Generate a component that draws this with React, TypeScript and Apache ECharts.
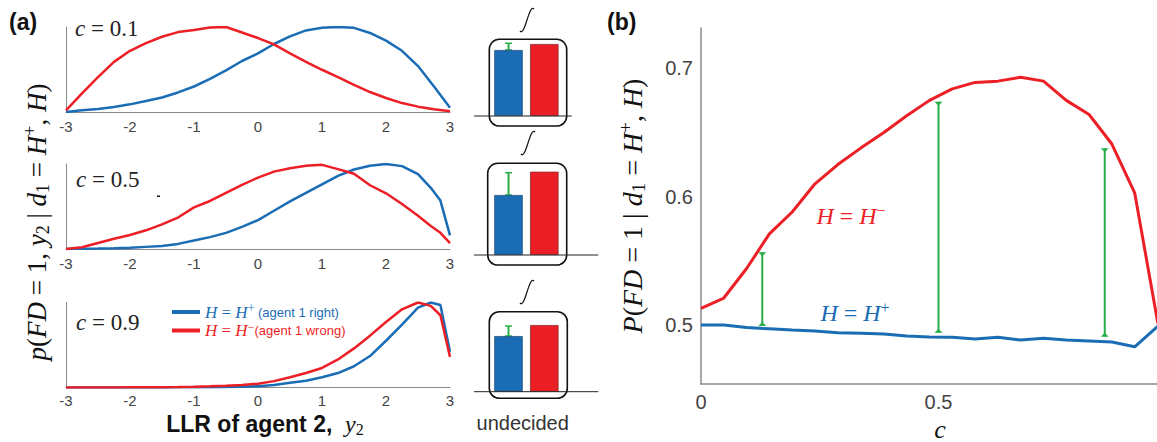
import React, { useEffect, useRef } from 'react';
import * as echarts from 'echarts';

// ---------- data ----------
const LLR_X1 = [-3, -2.75, -2.5, -2.25, -2, -1.75, -1.5, -1.25, -1, -0.75, -0.5, -0.25, 0, 0.25, 0.5, 0.75, 1, 1.25, 1.5, 1.75, 2, 2.25, 2.5, 2.75, 3];
const LLR_X23 = [-3, -2.75, -2.5, -2.25, -2, -1.75, -1.5, -1.25, -1, -0.75, -0.5, -0.25, 0, 0.25, 0.5, 0.75, 1, 1.25, 1.5, 1.75, 2, 2.25, 2.5, 2.7, 2.85, 3];

const c01Right = [0.0, 0.02, 0.035, 0.06, 0.09, 0.13, 0.17, 0.23, 0.3, 0.39, 0.49, 0.6, 0.69, 0.8, 0.89, 0.96, 0.99, 1.0, 0.99, 0.93, 0.84, 0.72, 0.54, 0.3, 0.05];
const c01Wrong = [0.02, 0.22, 0.41, 0.59, 0.72, 0.81, 0.885, 0.94, 0.965, 0.995, 1.0, 0.935, 0.87, 0.795, 0.69, 0.59, 0.497, 0.41, 0.32, 0.235, 0.165, 0.105, 0.063, 0.032, 0.01];

const c05Right = [0.0, 0.003, 0.006, 0.01, 0.015, 0.025, 0.035, 0.06, 0.1, 0.14, 0.19, 0.26, 0.34, 0.45, 0.56, 0.66, 0.76, 0.86, 0.935, 0.98, 1.0, 0.975, 0.88, 0.72, 0.57, 0.16];
const c05Wrong = [0.0, 0.02, 0.07, 0.12, 0.165, 0.22, 0.29, 0.37, 0.49, 0.565, 0.66, 0.755, 0.84, 0.91, 0.95, 0.98, 0.99, 0.94, 0.885, 0.75, 0.655, 0.53, 0.39, 0.27, 0.19, 0.07];

const c09Right = [0, 0, 0, 0, 0, 0.001, 0.001, 0.002, 0.003, 0.004, 0.006, 0.009, 0.015, 0.03, 0.055, 0.08, 0.12, 0.17, 0.25, 0.37, 0.55, 0.74, 0.94, 1.0, 0.97, 0.42];
const c09Wrong = [0, 0, 0, 0.001, 0.002, 0.003, 0.004, 0.006, 0.009, 0.014, 0.02, 0.03, 0.045, 0.075, 0.12, 0.17, 0.23, 0.33, 0.46, 0.61, 0.77, 0.92, 1.0, 0.96, 0.85, 0.36];

const PANEL_LABELS = ['0.1', '0.5', '0.9'];

// integrated ("undecided") bars, relative to H = H- bar
const BAR_CATS = ['H+', 'H-'];
const barsC01 = [0.917, 1.0];
const barsC05 = [0.72, 1.0];
const barsC09 = [0.835, 1.0];
const barErrTop = [1.01, 0.988, 0.985];

// panel (b)
const C_VALUES = [0, 0.048, 0.096, 0.144, 0.192, 0.24, 0.288, 0.337, 0.385, 0.433, 0.481, 0.529, 0.577, 0.625, 0.673, 0.721, 0.769, 0.817, 0.865, 0.913, 0.962];
const pWrong = [0.513, 0.521, 0.544, 0.571, 0.588, 0.61, 0.625, 0.638, 0.65, 0.663, 0.675, 0.684, 0.689, 0.69, 0.693, 0.69, 0.675, 0.664, 0.641, 0.603, 0.501];
const pRight = [0.5, 0.5, 0.498, 0.497, 0.496, 0.4953, 0.494, 0.4935, 0.493, 0.4914, 0.4906, 0.4904, 0.489, 0.4904, 0.4883, 0.4896, 0.4883, 0.4875, 0.4867, 0.483, 0.499];
const ERR_C = [0.129, 0.5, 0.85];
const ERR_LO = [0.4992, 0.494, 0.4909];
const ERR_HI = [0.5567, 0.674, 0.6377];

const X_TICKS_B = [0, 0.5, 1];
const Y_TICKS_B = [0.5, 0.6, 0.7];

// ---------- styles ----------
const BLUE = '#1a6db5';
const RED = '#ed1f26';
const GREEN = '#2aae4a';
const AXIS = '#8a8a8a';
const SERIF = "'Liberation Serif', 'DejaVu Serif', serif";
const SANS = "'Liberation Sans', Arial, Helvetica, sans-serif";

function mathRich(size: number, color: string) {
  const s = Math.round(size * 0.68);
  return {
    i: { fontFamily: SERIF, fontStyle: 'italic', fontSize: size, color, fill: color },
    n: { fontFamily: SERIF, fontSize: size, color, fill: color },
    sub: { fontFamily: SERIF, fontSize: s, color, fill: color, padding: [Math.round(size * 0.45), 0, 0, 0] },
    sup: { fontFamily: SERIF, fontSize: s, color, fill: color, padding: [0, 0, Math.round(size * 0.5), 0] },
  };
}

export default function App() {
  const ref = useRef<HTMLDivElement>(null);

  useEffect(() => {
    if (!ref.current) return;
    const chart = echarts.init(ref.current, null, { renderer: 'svg' });

    const gridsA = [
      { left: 66, top: 27, width: 384, height: 85, outerBoundsMode: 'none' },
      { left: 66, top: 164, width: 384, height: 85, outerBoundsMode: 'none' },
      { left: 66, top: 302.5, width: 384, height: 85, outerBoundsMode: 'none' },
    ];
    const gridsBar = [
      { left: 490.6, top: 29.6, width: 71.6, height: 86.4, outerBoundsMode: 'none' },
      { left: 490.6, top: 155, width: 71.6, height: 100, outerBoundsMode: 'none' },
      { left: 490.6, top: 311.7, width: 71.6, height: 80, outerBoundsMode: 'none' },
    ];
    const gridB = { left: 701, top: 28, width: 475, height: 356, outerBoundsMode: 'none' };

    const xAxesA = gridsA.map((_, i) => ({
      type: 'value', gridIndex: i, min: -3, max: 3, interval: 1,
      axisLine: { show: true, onZero: false, lineStyle: { color: AXIS, width: 1 } },
      axisTick: { show: false }, splitLine: { show: false },
      axisLabel: { fontSize: 15, color: '#444', margin: i === 2 ? 5 : 7, fontFamily: SANS },
    }));
    const yAxesA = gridsA.map((_, i) => ({
      type: 'value', gridIndex: i, min: 0, max: 1,
      axisLine: { show: true, onZero: false, lineStyle: { color: AXIS, width: 1 } },
      axisTick: { show: false }, splitLine: { show: false }, axisLabel: { show: false },
    }));
    const xAxesBar = gridsBar.map((_, i) => ({
      type: 'category', gridIndex: 3 + i, data: BAR_CATS, show: false,
    }));
    const yAxesBar = gridsBar.map((_, i) => ({
      type: 'value', gridIndex: 3 + i, min: 0, max: 1.2, show: false,
    }));
    const xAxisB = {
      type: 'value', gridIndex: 6, min: 0, max: 1,
      axisLine: { show: true, onZero: false, lineStyle: { color: AXIS, width: 1.5 } },
      axisTick: { show: false }, splitLine: { show: false },
      axisLabel: { fontSize: 20, color: '#444', margin: 8, fontFamily: SANS, customValues: X_TICKS_B },
    };
    const yAxisB = {
      type: 'value', gridIndex: 6, min: 0.454, max: 0.7314,
      axisLine: { show: true, onZero: false, lineStyle: { color: AXIS, width: 1.5 } },
      axisTick: { show: false }, splitLine: { show: false },
      axisLabel: { fontSize: 20, color: '#444', margin: 8, fontFamily: SANS, customValues: Y_TICKS_B },
    };

    const lineA = (name: string, xs: number[], ys: number[], idx: number, color: string) => ({
      type: 'line', name, xAxisIndex: idx, yAxisIndex: idx,
      data: xs.map((x, k) => [x, ys[k]]),
      showSymbol: false, symbol: 'none',
      lineStyle: { color, width: 2.5 }, itemStyle: { color },
    });

    const barData = [barsC01, barsC05, barsC09];
    const barSeries = barData.map((vals, i) => ({
      type: 'bar', xAxisIndex: 3 + i, yAxisIndex: 3 + i, barWidth: 28.5,
      data: vals.map((v, k) => ({
        value: v,
        itemStyle: { color: k === 0 ? BLUE : RED, borderColor: k === 0 ? '#24507a' : '#8a2a2a', borderWidth: 0.8 },
      })),
    }));
    const barErrSeries = barData.map((vals, i) => ({
      type: 'custom', xAxisIndex: 3 + i, yAxisIndex: 3 + i,
      data: [[0, vals[0], barErrTop[i]]],
      renderItem: (_p: any, api: any) => {
        const lo = api.coord([api.value(0), api.value(1)]);
        const hi = api.coord([api.value(0), api.value(2)]);
        return {
          type: 'group',
          children: [
            { type: 'line', shape: { x1: lo[0], y1: lo[1], x2: hi[0], y2: hi[1] }, style: { stroke: GREEN, lineWidth: 2 } },
            { type: 'line', shape: { x1: hi[0] - 3.5, y1: hi[1], x2: hi[0] + 3.5, y2: hi[1] }, style: { stroke: GREEN, lineWidth: 1.5 } },
            { type: 'line', shape: { x1: lo[0] - 3.5, y1: lo[1], x2: lo[0] + 3.5, y2: lo[1] }, style: { stroke: GREEN, lineWidth: 1.5 } },
          ],
        };
      },
    }));

    const rich = (size: number, color: string) => mathRich(size, color);

    // thin slanted integral sign drawn as a curve
    const integral = (cx: number, cy: number) => ({
      type: 'bezierCurve',
      shape: { x1: cx - 7, y1: cy + 11, cpx1: cx - 2, cpy1: cy + 17, cpx2: cx + 2, cpy2: cy - 17, x2: cx + 7, y2: cy - 11 },
      style: { stroke: '#111', lineWidth: 1.2, fill: 'none' },
      z: 10,
    });

    const cLabelPos = [[75, 28], [76, 179], [76, 322]];
    const graphics: any[] = [
      { type: 'text', left: 9, top: 10, style: { text: '(a)', fontFamily: SANS, fontWeight: 'bold', fontSize: 23, fill: '#111' } },
      { type: 'text', left: 607, top: 10, style: { text: '(b)', fontFamily: SANS, fontWeight: 'bold', fontSize: 23, fill: '#111' } },
      ...cLabelPos.map((p, i) => ({
        type: 'text', x: p[0], y: p[1],
        style: {
          text: `{i|c}{n| = ${PANEL_LABELS[i]}}`, rich: rich(23, '#222'),
          align: 'left', verticalAlign: 'middle',
        },
      })),
      { type: 'rect', shape: { x: 157, y: 195.5, width: 3, height: 1.5 }, style: { fill: '#111' } },
      {
        type: 'text', x: 37, y: 222, rotation: Math.PI / 2,
        style: {
          text: '{i|p}{n|(}{i|FD}{n| = 1, }{i|y}{sub|2}{n| | }{i|d}{sub|1}{n| = }{i|H}{sup|+}{n|, }{i|H}{n|)}',
          rich: rich(27, '#111'), align: 'center', verticalAlign: 'middle',
        },
      },
      {
        type: 'text', x: 632, y: 206, rotation: Math.PI / 2,
        style: {
          text: '{i|P}{n|(}{i|FD}{n| = 1 | }{i|d}{sub|1}{n| = }{i|H}{sup|+}{n|, }{i|H}{n|)}',
          rich: rich(28, '#111'), align: 'center', verticalAlign: 'middle',
        },
      },
      {
        type: 'text', x: 265, y: 424,
        style: {
          text: '{b|LLR of agent 2,  }{i|y}{sub|2}',
          rich: {
            b: { fontFamily: SANS, fontWeight: 'bold', fontSize: 23, fill: '#111' },
            ...mathRich(24, '#111'),
          },
          align: 'center', verticalAlign: 'middle',
        },
      },
      {
        type: 'text', x: 940, y: 429,
        style: { text: 'c', fontFamily: SERIF, fontStyle: 'italic', fontSize: 26, fill: '#111', align: 'center', verticalAlign: 'middle' },
      },
      {
        type: 'text', x: 851, y: 216,
        style: { text: '{i|H}{n| = }{i|H}{sup|−}', rich: rich(24, RED), align: 'center', verticalAlign: 'middle' },
      },
      {
        type: 'text', x: 855, y: 313,
        style: { text: '{i|H}{n| = }{i|H}{sup|+}', rich: rich(24, BLUE), align: 'center', verticalAlign: 'middle' },
      },
      // integrated boxes
      { type: 'rect', shape: { x: 489.3, y: 39.3, width: 77.4, height: 86.7, r: 10 }, style: { fill: 'none', stroke: '#111', lineWidth: 1.6 }, z: 10 },
      { type: 'rect', shape: { x: 487.7, y: 163.3, width: 79, height: 101.7, r: 10 }, style: { fill: 'none', stroke: '#111', lineWidth: 1.6 }, z: 10 },
      { type: 'rect', shape: { x: 489.3, y: 311.7, width: 78, height: 86.6, r: 10 }, style: { fill: 'none', stroke: '#111', lineWidth: 1.6 }, z: 10 },
      { type: 'line', shape: { x1: 474, y1: 116, x2: 571.7, y2: 116 }, style: { stroke: '#222', lineWidth: 1 }, z: 10 },
      { type: 'line', shape: { x1: 474, y1: 255, x2: 598.3, y2: 255 }, style: { stroke: '#222', lineWidth: 1 }, z: 10 },
      { type: 'line', shape: { x1: 474, y1: 391.7, x2: 598.3, y2: 391.7 }, style: { stroke: '#222', lineWidth: 1 }, z: 10 },
      integral(527, 20),
      integral(528, 143),
      integral(527, 292),
      {
        type: 'text', x: 522.7, y: 423,
        style: { text: 'undecided', fontFamily: SANS, fontSize: 20, fill: '#333', align: 'center', verticalAlign: 'middle' },
      },
    ];

    const option: any = {
      animation: false,
      backgroundColor: '#fff',
      grid: [...gridsA, ...gridsBar, gridB],
      xAxis: [...xAxesA, ...xAxesBar, xAxisB],
      yAxis: [...yAxesA, ...yAxesBar, yAxisB],
      legend: {
        data: ['H+', 'H-'], orient: 'vertical', left: 172, top: 302, padding: 0, itemGap: 0,
        icon: 'rect', itemWidth: 28, itemHeight: 4,
        formatter: (name: string) =>
          name === 'H+'
            ? '{bi|H}{bn| = }{bi|H}{bsup|+}{bt| (agent 1 right)}'
            : '{ri|H}{rn| = }{ri|H}{rsup|−}{rt|(agent 1 wrong)}',
        textStyle: {
          rich: {
            bi: { fontFamily: SERIF, fontStyle: 'italic', fontSize: 17, color: BLUE, lineHeight: 20 },
            bn: { fontFamily: SERIF, fontSize: 17, color: BLUE, lineHeight: 20 },
            bsup: { fontFamily: SERIF, fontSize: 12, color: BLUE, padding: [0, 0, 8, 0] },
            bt: { fontFamily: SANS, fontSize: 13, color: BLUE, lineHeight: 20 },
            ri: { fontFamily: SERIF, fontStyle: 'italic', fontSize: 17, color: RED, lineHeight: 20 },
            rn: { fontFamily: SERIF, fontSize: 17, color: RED, lineHeight: 20 },
            rsup: { fontFamily: SERIF, fontSize: 12, color: RED, padding: [0, 0, 8, 0] },
            rt: { fontFamily: SANS, fontSize: 13, color: RED, lineHeight: 20 },
          },
        },
      },
      graphic: graphics,
      series: [
        lineA('H+', LLR_X1, c01Right, 0, BLUE),
        lineA('H-', LLR_X1, c01Wrong, 0, RED),
        lineA('H+', LLR_X23, c05Right, 1, BLUE),
        lineA('H-', LLR_X23, c05Wrong, 1, RED),
        lineA('H+', LLR_X23, c09Right, 2, BLUE),
        lineA('H-', LLR_X23, c09Wrong, 2, RED),
        ...barSeries,
        ...barErrSeries,
        {
          type: 'line', name: 'H-', xAxisIndex: 6, yAxisIndex: 6,
          data: C_VALUES.map((c, k) => [c, pWrong[k]]),
          showSymbol: false, symbol: 'none', lineStyle: { color: RED, width: 3 }, itemStyle: { color: RED },
        },
        {
          type: 'line', name: 'H+', xAxisIndex: 6, yAxisIndex: 6,
          data: C_VALUES.map((c, k) => [c, pRight[k]]),
          showSymbol: false, symbol: 'none', lineStyle: { color: BLUE, width: 3 }, itemStyle: { color: BLUE },
        },
        {
          type: 'custom', xAxisIndex: 6, yAxisIndex: 6,
          data: ERR_C.map((c, k) => [c, ERR_LO[k], ERR_HI[k]]),
          renderItem: (_p: any, api: any) => {
            const lo = api.coord([api.value(0), api.value(1)]);
            const hi = api.coord([api.value(0), api.value(2)]);
            return {
              type: 'group',
              children: [
                { type: 'line', shape: { x1: lo[0], y1: lo[1], x2: hi[0], y2: hi[1] }, style: { stroke: GREEN, lineWidth: 2 } },
                { type: 'polygon', shape: { points: [[hi[0] - 4, hi[1]], [hi[0] + 4, hi[1]], [hi[0], hi[1] + 4]] }, style: { fill: GREEN } },
                { type: 'polygon', shape: { points: [[lo[0] - 4, lo[1]], [lo[0] + 4, lo[1]], [lo[0], lo[1] - 4]] }, style: { fill: GREEN } },
              ],
            };
          },
          z: 5,
        },
      ],
    };

    chart.setOption(option);
    return () => chart.dispose();
  }, []);

  return (
    <div
      ref={ref}
      style={{ position: 'absolute', left: 0, top: 0, width: 1157, height: 442, background: '#fff' }}
    />
  );
}
